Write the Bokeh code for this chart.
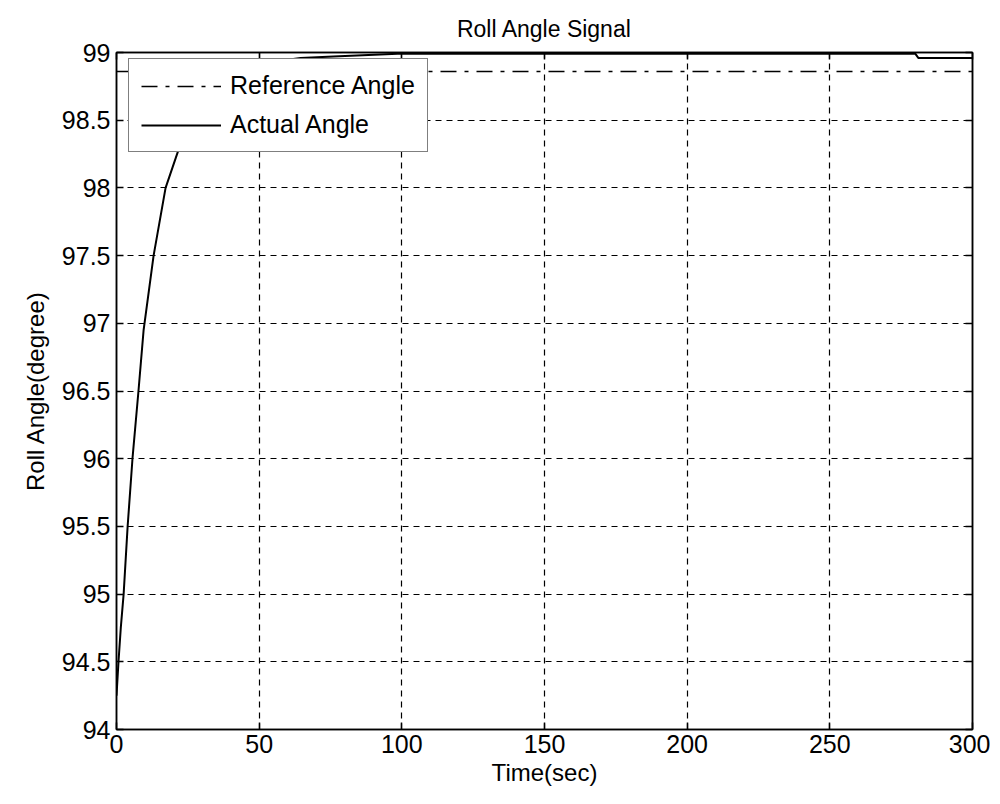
from bokeh.plotting import figure
from bokeh.models import (Range1d, FixedTicker, LinearAxis, Legend, LegendItem,
                          ColumnDataSource)
from bokeh.embed import file_html
from bokeh.resources import INLINE

# ---- data ----
time_actual = [0, 0.7, 1.5, 2.5, 3.9, 5.6, 7.7, 9.5, 13, 17.2, 21.4, 25, 30, 35,
               40, 48.7, 57.5, 64.5, 76, 98.5, 150, 200, 280, 281, 300]
angle_actual = [94.25, 94.5, 94.75, 95.0, 95.5, 96.0, 96.5, 96.95, 97.5, 98.0,
                98.26, 98.45, 98.62, 98.74, 98.82, 98.9, 98.94, 98.96, 98.97,
                98.99, 98.99, 98.99, 98.99, 98.96, 98.96]
time_ref = [0, 300]
angle_ref = [98.86, 98.86]

x_ticks = [0, 50, 100, 150, 200, 250, 300]
x_tick_labels = ["0", "50", "100", "150", "200", "250", "300"]
y_ticks = [94, 94.5, 95, 95.5, 96, 96.5, 97, 97.5, 98, 98.5, 99]
y_tick_labels = ["94", "94.5", "95", "95.5", "96", "96.5", "97", "97.5", "98", "98.5", "99"]

title_text = "Roll Angle Signal"
x_label = "Time(sec)"
y_label = "Roll Angle(degree)"
series_names = ["Reference Angle", "Actual Angle"]

FONT = "Liberation Sans"

p = figure(width=990, height=800, output_backend="svg", toolbar_location=None,
           x_range=Range1d(0, 300), y_range=Range1d(94, 99),
           min_border_left=116, min_border_top=52, min_border_right=18,
           min_border_bottom=71, title=title_text)

p.title.align = "center"
p.title.text_font = FONT
p.title.text_font_size = "23px"
p.title.text_font_style = "normal"
p.title.text_color = "black"
p.title.standoff = 22

p.background_fill_color = "white"
p.border_fill_color = "white"
p.outline_line_color = "black"
p.outline_line_width = 1.5

for ax, ticks, labels, lab in [(p.xaxis[0], x_ticks, x_tick_labels, x_label),
                               (p.yaxis[0], y_ticks, y_tick_labels, y_label)]:
    ax.ticker = FixedTicker(ticks=ticks)
    ax.major_label_overrides = {t: l for t, l in zip(ticks, labels)}
    ax.axis_label = lab
    ax.axis_label_text_font = FONT
    ax.axis_label_text_font_size = "24px"
    ax.axis_label_text_font_style = "normal"
    ax.axis_label_text_color = "black"
    ax.major_label_text_font = FONT
    ax.major_label_text_font_size = "25px"
    ax.major_label_text_color = "black"
    ax.axis_line_color = "black"
    ax.axis_line_width = 1.5
    ax.major_tick_in = 7
    ax.major_tick_out = 0
    ax.major_tick_line_color = "black"
    ax.major_tick_line_width = 1.5
    ax.minor_tick_line_color = None

p.xaxis[0].major_label_standoff = 5
p.xaxis[0].axis_label_standoff = 3
p.yaxis[0].major_label_standoff = 6
p.yaxis[0].axis_label_standoff = 10

# Box ticks on top and right (MATLAB style), without labels
top_ax = LinearAxis(ticker=FixedTicker(ticks=x_ticks), major_tick_in=7, major_tick_out=0,
                    major_label_overrides={t: "" for t in x_ticks},
                    minor_tick_line_color=None,
                    major_tick_line_width=1.5, axis_line_width=1.5,
                    major_label_standoff=0)
right_ax = LinearAxis(ticker=FixedTicker(ticks=y_ticks), major_tick_in=7, major_tick_out=0,
                      major_label_overrides={t: "" for t in y_ticks},
                      minor_tick_line_color=None,
                      major_tick_line_width=1.5, axis_line_width=1.5,
                      major_label_standoff=0)
p.add_layout(top_ax, "above")
p.add_layout(right_ax, "right")

p.xgrid[0].ticker = FixedTicker(ticks=x_ticks)
p.ygrid[0].ticker = FixedTicker(ticks=y_ticks)
for g in (p.xgrid[0], p.ygrid[0]):
    g.grid_line_color = "black"
    g.grid_line_dash = "6 5"
    g.grid_line_width = 1.2
    g.grid_line_alpha = 1.0

src_ref = ColumnDataSource(dict(t=time_ref, v=angle_ref))
src_act = ColumnDataSource(dict(t=time_actual, v=angle_actual))
r_ref = p.line("t", "v", source=src_ref, line_color="black", line_width=1.5,
               line_dash="16 8 4 8")
r_act = p.line("t", "v", source=src_act, line_color="black", line_width=2)

legend = Legend(items=[LegendItem(label=series_names[0], renderers=[r_ref]),
                       LegendItem(label=series_names[1], renderers=[r_act])],
                location=(12, 577))
legend.label_text_font = FONT
legend.label_text_font_size = "25px"
legend.label_text_color = "black"
legend.glyph_width = 80
legend.glyph_height = 26
legend.label_height = 26
legend.spacing = 10
legend.padding = 12
legend.margin = 0
legend.label_standoff = 9
legend.border_line_color = "black"
legend.border_line_width = 1.5
legend.background_fill_color = "white"
legend.background_fill_alpha = 1.0
p.add_layout(legend, "center")

open("out.html", "w").write(file_html(p, INLINE))
